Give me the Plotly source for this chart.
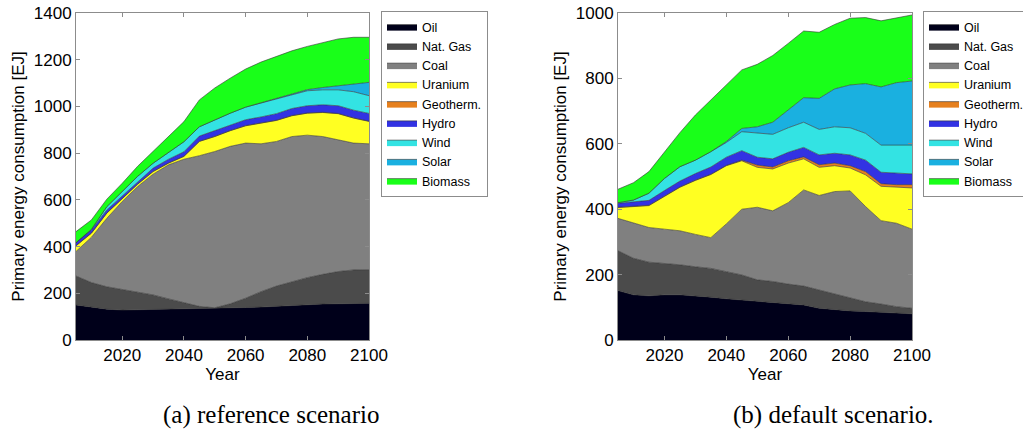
import plotly.graph_objects as go

# ---------------- data ----------------
years = [2005, 2010, 2015, 2020, 2025, 2030, 2035, 2040, 2045, 2050,
         2055, 2060, 2065, 2070, 2075, 2080, 2085, 2090, 2095, 2100]

series_names = ["Oil", "Nat. Gas", "Coal", "Uranium", "Geotherm.",
                "Hydro", "Wind", "Solar", "Biomass"]

# (a) reference scenario [EJ]
ref_oil = [150, 140, 132, 128, 129, 130, 132, 133, 135, 137, 138, 139, 141, 145, 149, 152, 154, 155, 156, 157]
ref_gas = [124, 106, 96, 89, 78, 63, 44, 27, 9, 1, 17, 40, 66, 86, 101, 115, 127, 138, 144, 144]
ref_coal = [105, 194, 293, 376, 450, 517, 574, 614, 645, 669, 674, 664, 633, 619, 621, 610, 590, 564, 543, 539]
ref_uranium = [24, 17, 22, 10, 10, 11, 7, 12, 61, 64, 67, 74, 89, 90, 89, 94, 103, 112, 107, 96]
ref_geo = [1, 1, 1, 1, 1, 1, 1, 1, 1, 1, 1, 1, 1, 1, 1, 1, 1, 1, 1, 1]
ref_hydro = [13, 13, 13, 13, 12, 14, 16, 19, 22, 24, 24, 25, 25, 28, 30, 31, 32, 33, 33, 33]
ref_wind = [0, 3, 14, 19, 21, 21, 29, 43, 40, 47, 50, 54, 60, 65, 61, 64, 64, 68, 79, 76]
ref_solar = [0, 0, 0, 0, 0, 0, 0, 0, 0, 0, 0, 0, 0, 0, 2, 5, 10, 18, 33, 57]
ref_biomass = [47, 40, 32, 35, 43, 50, 68, 86, 115, 136, 150, 163, 175, 181, 184, 185, 193, 200, 200, 193]

# (b) default scenario [EJ]
def_oil = [151, 138, 135, 138, 138, 135, 131, 126, 122, 119, 115, 110, 107, 97, 92, 89, 87, 84, 82, 80]
def_gas = [122, 112, 103, 97, 92, 89, 88, 83, 77, 65, 64, 61, 58, 56, 49, 39, 30, 26, 20, 17]
def_coal = [99, 107, 106, 104, 104, 99, 94, 146, 201, 222, 216, 249, 294, 289, 313, 328, 291, 255, 255, 242]
def_uranium = [33, 50, 67, 100, 133, 165, 193, 178, 148, 122, 128, 121, 95, 86, 79, 70, 97, 105, 110, 126]
def_geo = [1, 1, 1, 1, 1, 1, 1, 1, 2, 7, 6, 7, 6, 8, 8, 7, 10, 8, 8, 10]
def_hydro = [12, 15, 15, 17, 18, 20, 22, 25, 29, 24, 25, 26, 29, 30, 30, 33, 35, 35, 35, 33]
def_wind = [2, 5, 22, 37, 44, 41, 47, 45, 58, 73, 75, 75, 77, 78, 81, 83, 82, 83, 86, 88]
def_solar = [0, 0, 0, 0, 0, 0, 0, 3, 10, 20, 37, 54, 75, 95, 116, 131, 152, 178, 191, 196]
def_biomass = [41, 53, 66, 82, 104, 138, 158, 173, 179, 191, 204, 204, 204, 202, 197, 204, 202, 202, 199, 202]

x_ticks = [2020, 2040, 2060, 2080, 2100]
y_ticks_ref = [0, 200, 400, 600, 800, 1000, 1200, 1400]
y_ticks_def = [0, 200, 400, 600, 800, 1000]

captions = ["(a) reference scenario", "(b) default scenario."]
y_title = "Primary energy consumption [EJ]"
x_title = "Year"

# ---------------- style ----------------
colors = ["#00001a", "#4b4b4b", "#808080", "#ffff22", "#e6801e",
          "#3232e3", "#33e3e3", "#1ab0e0", "#19ff19"]
SANS = "Liberation Sans, Arial, sans-serif"
SERIF = "Liberation Serif, Times New Roman, serif"
W, H = 1023, 430

ref_data = [ref_oil, ref_gas, ref_coal, ref_uranium, ref_geo,
            ref_hydro, ref_wind, ref_solar, ref_biomass]
def_data = [def_oil, def_gas, def_coal, def_uranium, def_geo,
            def_hydro, def_wind, def_solar, def_biomass]

fig = go.Figure()
for name, col, vals in zip(series_names, colors, ref_data):
    fig.add_trace(go.Scatter(
        x=years, y=vals, name=name, stackgroup="ref", mode="lines",
        line=dict(width=0.6, color="#333333"), fillcolor=col,
        xaxis="x", yaxis="y", legend="legend"))
for name, col, vals in zip(series_names, colors, def_data):
    fig.add_trace(go.Scatter(
        x=years, y=vals, name=name, stackgroup="def", mode="lines",
        line=dict(width=0.6, color="#333333"), fillcolor=col,
        xaxis="x2", yaxis="y2", legend="legend2"))

def px_x(p):
    return p / W

def px_y(p):
    return 1 - p / H

ydom = [px_y(340), px_y(13)]
axis_common = dict(showline=True, linecolor="#8c8c8c", linewidth=1, mirror="ticks",
                   ticks="inside", ticklen=4, tickcolor="#8c8c8c", showgrid=False,
                   zeroline=False, tickfont=dict(family=SANS, size=17, color="black"))

legend_common = dict(xanchor="left", yanchor="top",
                     bgcolor="white", bordercolor="#8c8c8c", borderwidth=1,
                     font=dict(family=SANS, size=12.5, color="black"),
                     traceorder="normal", itemwidth=30, tracegroupgap=0)

fig.update_layout(
    width=W, height=H, margin=dict(l=0, r=0, t=0, b=0, autoexpand=False),
    paper_bgcolor="white", plot_bgcolor="white",
    font=dict(family=SANS, size=17, color="black"),
    showlegend=True,
    xaxis=dict(domain=[px_x(76), px_x(369)], range=[2005, 2100], tickvals=x_ticks,
               title=dict(text=x_title, font=dict(size=17), standoff=1), anchor="y", **axis_common),
    yaxis=dict(domain=ydom, range=[0, 1400], tickvals=y_ticks_ref,
               title=dict(text=y_title, font=dict(size=17), standoff=4), anchor="x", **axis_common),
    xaxis2=dict(domain=[px_x(618), px_x(912)], range=[2005, 2100], tickvals=x_ticks,
                title=dict(text=x_title, font=dict(size=17), standoff=1), anchor="y2", **axis_common),
    yaxis2=dict(domain=ydom, range=[0, 1000], tickvals=y_ticks_def,
                title=dict(text=y_title, font=dict(size=17), standoff=4), anchor="x2", **axis_common),
    legend=dict(x=px_x(381), y=px_y(11), **legend_common),
    legend2=dict(x=px_x(923), y=px_y(11), **legend_common),
    annotations=[
        dict(text=captions[0], x=px_x(271), y=px_y(415), xref="paper", yref="paper",
             showarrow=False, xanchor="center", yanchor="middle",
             font=dict(family=SERIF, size=25, color="black")),
        dict(text=captions[1], x=px_x(833), y=px_y(415), xref="paper", yref="paper",
             showarrow=False, xanchor="center", yanchor="middle",
             font=dict(family=SERIF, size=25, color="black")),
    ],
)

fig.write_html("out.html")
